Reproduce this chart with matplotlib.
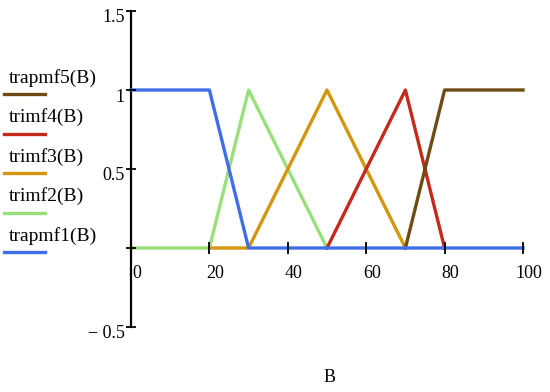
import matplotlib
matplotlib.use('Agg')
import matplotlib.pyplot as plt
import matplotlib.transforms as mtransforms
from matplotlib.lines import Line2D

plt.rcParams['font.family'] = ['Liberation Serif', 'DejaVu Serif']

# breakpoints of each membership function
x_trap1 = [0, 20, 30, 100]
y_trap1 = [1, 1, 0, 0]
x_tri2 = [0, 20, 30, 50]
y_tri2 = [0, 0, 1, 0]
x_tri3 = [20, 30, 50, 70]
y_tri3 = [0, 0, 1, 0]
x_tri4 = [50, 70, 80]
y_tri4 = [0, 1, 0]
x_trap5 = [70, 80, 100]
y_trap5 = [0, 1, 1]

names = ['trapmf5(B)', 'trimf4(B)', 'trimf3(B)', 'trimf2(B)', 'trapmf1(B)']
colors = ['#6e4b12', '#c42a1a', '#d4960f', '#99e07a', '#3f6ee8']

xticks = [0, 20, 40, 60, 80, 100]
yticks = [-0.5, 0, 0.5, 1, 1.5]
ytick_labels = ['\u2212 0.5', '', '0.5', '1', '1.5']

W, H = 550, 392
fig = plt.figure(figsize=(5.5, 3.92), dpi=100)
ax = fig.add_axes([131 / W, 1 - 327 / H, 392 / W, 316 / H])

lw = 2.4
ax.plot(x_tri2, y_tri2, color=colors[3], lw=lw, clip_on=False, zorder=2)
ax.plot(x_tri3, y_tri3, color=colors[2], lw=lw, clip_on=False, zorder=3)
ax.plot(x_tri4, y_tri4, color=colors[1], lw=lw, clip_on=False, zorder=4)
ax.plot(x_trap5, y_trap5, color=colors[0], lw=lw, clip_on=False, zorder=5)
ax.plot(x_trap1, y_trap1, color=colors[4], lw=lw, clip_on=False, zorder=6)

ax.set_xlim(0, 100)
ax.set_ylim(-0.5, 1.5)
ax.spines['top'].set_visible(False)
ax.spines['right'].set_visible(False)
ax.spines['left'].set_position(('data', 0))
ax.spines['bottom'].set_position(('data', 0))
ax.spines['left'].set_linewidth(1.6)
ax.spines['bottom'].set_visible(False)

ax.set_xticks(xticks)
ax.set_xticklabels([str(v) for v in xticks])
ax.set_yticks(yticks)
ax.set_yticklabels(ytick_labels)
ax.tick_params(axis='x', direction='inout', length=8, width=1.3, pad=8, labelsize=13)
ax.tick_params(axis='y', direction='inout', length=7, width=1.3, pad=1, labelsize=13)
ax.xaxis.set_zorder(10)
ax.yaxis.set_zorder(10)

# shift tick labels slightly like the original
dx = mtransforms.ScaledTranslation(6 / 100, 0, fig.dpi_scale_trans)
for lab in ax.get_xticklabels():
    lab.set_transform(lab.get_transform() + dx)
dy = mtransforms.ScaledTranslation(0, -5 / 100, fig.dpi_scale_trans)
for lab in ax.get_yticklabels():
    lab.set_transform(lab.get_transform() + dy)

fig.text(330 / W, 1 - 378 / H, 'B', ha='center', va='center', fontsize=13)

# legend on the left
for i, (name, c) in enumerate(zip(names, colors)):
    ty = 78 + i * 39.5
    ly = 94 + i * 39.5
    fig.text(9 / W, 1 - ty / H, name, ha='left', va='center', fontsize=14)
    fig.add_artist(Line2D([4 / W, 45 / W], [1 - ly / H, 1 - ly / H], color=c, lw=lw,
                          transform=fig.transFigure))

fig.savefig('out.png', dpi=100)
